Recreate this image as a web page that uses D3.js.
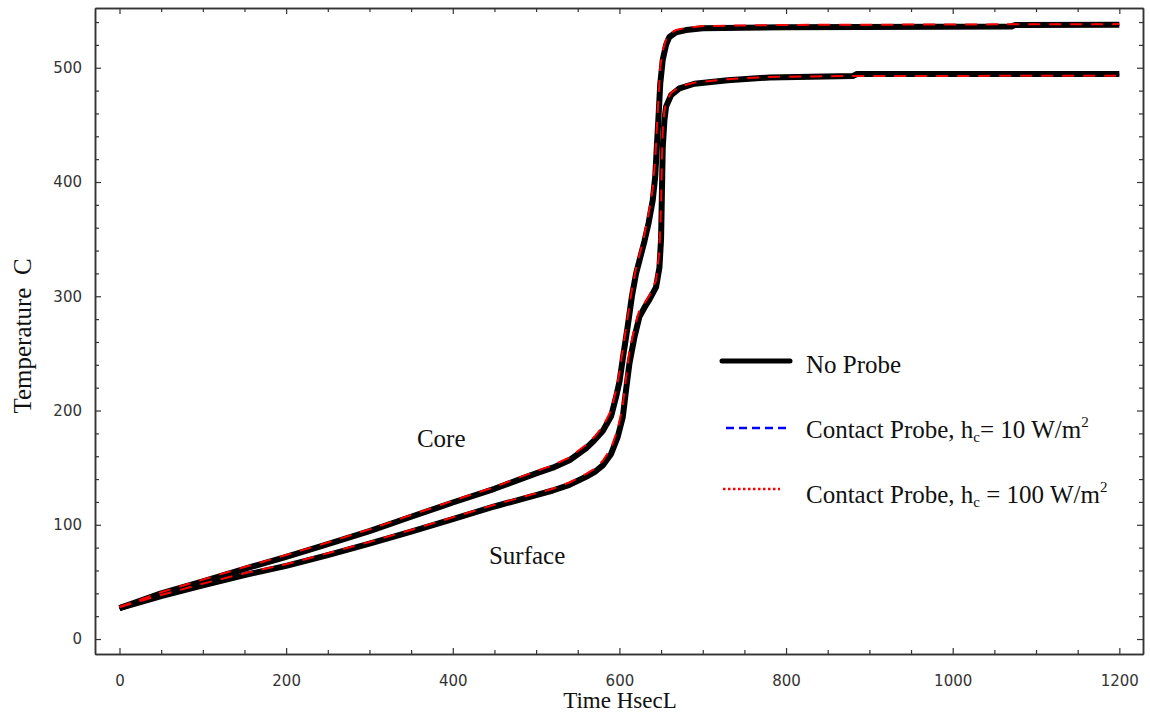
<!DOCTYPE html>
<html lang="en">
<head>
    <meta charset="UTF-8">
    <title>Temperature vs Time</title>
    <script src="https://d3js.org/d3.v7.min.js"></script>
    <style>
        body { margin: 0; background: #fff; }
        .tick text { font-family: "DejaVu Sans", sans-serif; font-size: 15px; fill: #333; }
        .serif { font-family: "Liberation Serif", "Times New Roman", serif; fill: #111; white-space: pre; }
    </style>
</head>
<body>
    <div id="chart"></div>

    <script>
        // Core (upper curve) readings
        const coreTime = [0, 50, 100, 150, 200, 250, 300, 350, 400, 450, 500, 520, 540, 560, 570, 580, 590, 596, 600, 605,
            610, 615, 620, 625, 630, 635, 640, 643, 645, 647, 649, 652, 656, 660, 668, 680, 700, 800, 1070, 1075, 1200];
        const coreNoProbe = [27, 40, 50.5, 61.5, 72, 83, 94.5, 107, 119.5, 131.5, 145, 150, 156.5, 167, 174, 182, 195, 212, 225, 250,
            274, 300, 320, 334, 348, 364, 384, 405, 432, 458, 486, 507, 520, 527, 531, 533, 534.5, 535.5, 536, 537.5, 537.6];
        const coreHc10 = [27, 40, 50.5, 61.5, 72, 83, 94.5, 107, 119.5, 131.5, 145, 150, 156.5, 167, 174, 182, 195, 212, 225, 250,
            274, 300, 320, 334, 348, 364, 384, 405, 432, 458, 486, 507, 520, 527, 531, 533, 534.5, 535.5, 536, 537, 537.5];
        const coreHc100 = [28, 41, 52, 63, 73.5, 84.5, 96, 108.5, 121, 133, 147, 152, 159, 170, 177, 186, 200, 218, 233, 258,
            282, 306, 325, 339, 354, 372, 394, 420, 448, 475, 500, 515, 525, 530, 533, 535, 536.5, 537.5, 538, 538, 538.2];

        // Surface (lower curve) readings
        const surfTime = [0, 50, 100, 150, 200, 250, 300, 350, 400, 450, 500, 520, 540, 560, 570, 580, 590, 598, 604, 608,
            612, 618, 624, 630, 636, 644, 648, 650, 651, 652, 654, 656, 662, 672, 690, 730, 780, 880, 885, 1200];
        const surfNoProbe = [27, 37.5, 47, 56, 64, 73.5, 83.5, 94, 105, 116, 126, 130, 135, 142, 146, 152, 162, 177, 194, 218,
            241, 264, 282, 290, 297, 308, 325, 350, 390, 430, 454, 466, 476, 482, 486, 489, 491.5, 492.7, 494.5, 494.5];
        const surfHc10 = [27, 37.5, 47, 56, 64, 73.5, 83.5, 94, 105, 116, 126, 130, 135, 142, 146, 152, 162, 177, 194, 218,
            241, 264, 282, 290, 297, 308, 325, 350, 390, 430, 454, 466, 476, 482, 486, 489, 491.5, 492.7, 493.5, 494];
        const surfHc100 = [28, 38.5, 48.5, 57.5, 65.5, 75, 85, 95.5, 106.5, 117.5, 127.5, 131.5, 137, 144.5, 149, 156, 167, 184, 204, 229,
            252, 272, 288, 294, 301, 314, 340, 380, 420, 445, 462, 470, 478, 483.5, 487, 490, 492, 492.8, 492.8, 493];

        const xTicks = [0, 200, 400, 600, 800, 1000, 1200];
        const yTicks = [0, 100, 200, 300, 400, 500];

        const width = 1150, height = 715;
        const svg = d3.select("#chart").append("svg")
            .attr("width", width)
            .attr("height", height);

        const x = d3.scaleLinear().domain([-29.4, 1228.4]).range([95, 1143]);
        const y = d3.scaleLinear().domain([-13.1, 552.3]).range([654, 8]);

        const xMinor = d3.range(-50, 1251, 50).filter(v => v % 200 !== 0 && v > -29.4 && v < 1228.4);
        const yMinor = d3.range(-20, 561, 20).filter(v => v % 100 !== 0 && v > -13.1 && v < 552.3);
        const fmt = d3.format("d");

        // axes: ticks point inward on all four sides
        function styleAxis(g) {
            g.select(".domain").attr("stroke", "#333").attr("stroke-width", 1.5);
            g.selectAll(".tick line").attr("stroke", "#333").attr("stroke-width", 1.2);
        }

        svg.append("g").attr("transform", "translate(0,654)")
            .call(d3.axisBottom(x).tickValues(xTicks).tickFormat(fmt).tickSizeInner(-6).tickSizeOuter(0).tickPadding(21))
            .call(styleAxis);
        svg.append("g").attr("transform", "translate(0,654)")
            .call(d3.axisBottom(x).tickValues(xMinor).tickSizeInner(-4).tickSizeOuter(0).tickFormat(""))
            .call(styleAxis);
        svg.append("g").attr("transform", "translate(0,8)")
            .call(d3.axisTop(x).tickValues(xTicks).tickSizeInner(-6).tickSizeOuter(0).tickFormat(""))
            .call(styleAxis);
        svg.append("g").attr("transform", "translate(0,8)")
            .call(d3.axisTop(x).tickValues(xMinor).tickSizeInner(-4).tickSizeOuter(0).tickFormat(""))
            .call(styleAxis);

        svg.append("g").attr("transform", "translate(95,0)")
            .call(d3.axisLeft(y).tickValues(yTicks).tickFormat(fmt).tickSizeInner(-6).tickSizeOuter(0).tickPadding(13))
            .call(styleAxis);
        svg.append("g").attr("transform", "translate(95,0)")
            .call(d3.axisLeft(y).tickValues(yMinor).tickSizeInner(-4).tickSizeOuter(0).tickFormat(""))
            .call(styleAxis);
        svg.append("g").attr("transform", "translate(1143,0)")
            .call(d3.axisRight(y).tickValues(yTicks).tickSizeInner(-6).tickSizeOuter(0).tickFormat(""))
            .call(styleAxis);
        svg.append("g").attr("transform", "translate(1143,0)")
            .call(d3.axisRight(y).tickValues(yMinor).tickSizeInner(-4).tickSizeOuter(0).tickFormat(""))
            .call(styleAxis);

        // curves
        const line = d3.line().x(d => x(d[0])).y(d => y(d[1]));
        const pairs = (ts, vs) => ts.map((t, i) => [t, vs[i]]);

        const series = [
            { data: pairs(coreTime, coreHc10), color: "#0000ff", w: 2, dash: "8,5" },
            { data: pairs(surfTime, surfHc10), color: "#0000ff", w: 2, dash: "8,5" },
            { data: pairs(coreTime, coreNoProbe), color: "#000", w: 6, dash: null },
            { data: pairs(surfTime, surfNoProbe), color: "#000", w: 6, dash: null },
            { data: pairs(coreTime, coreHc100), color: "#ff0000", w: 2, dash: "12,9" },
            { data: pairs(surfTime, surfHc100), color: "#ff0000", w: 2, dash: "12,9" }
        ];

        svg.append("g").selectAll("path")
            .data(series)
            .join("path")
            .attr("d", d => line(d.data))
            .attr("fill", "none")
            .attr("stroke", d => d.color)
            .attr("stroke-width", d => d.w)
            .attr("stroke-dasharray", d => d.dash)
            .attr("stroke-linejoin", "round");

        // curve labels
        svg.append("text").attr("class", "serif")
            .attr("x", x(357)).attr("y", y(168))
            .attr("font-size", 25).text("Core");
        svg.append("text").attr("class", "serif")
            .attr("x", x(443.4)).attr("y", y(65.6))
            .attr("font-size", 25).text("Surface");

        // axis titles
        svg.append("text").attr("class", "serif")
            .attr("x", 620).attr("y", 708)
            .attr("text-anchor", "middle")
            .attr("font-size", 23)
            .text("Time HsecL");
        svg.append("text").attr("class", "serif")
            .attr("transform", "translate(31,336) rotate(-90)")
            .attr("text-anchor", "middle")
            .attr("font-size", 25)
            .text("Temperature  C");

        // legend
        const legend = svg.append("g");
        legend.append("line").attr("x1", 722).attr("x2", 790).attr("y1", 361).attr("y2", 361)
            .attr("stroke", "#000").attr("stroke-width", 5).attr("stroke-linecap", "round");
        legend.append("line").attr("x1", 726).attr("x2", 787).attr("y1", 428).attr("y2", 428)
            .attr("stroke", "#0000ff").attr("stroke-width", 2.5).attr("stroke-dasharray", "8,5");
        legend.append("line").attr("x1", 723).attr("x2", 780).attr("y1", 489).attr("y2", 489)
            .attr("stroke", "#ff0000").attr("stroke-width", 2.5).attr("stroke-dasharray", "2.5,2.5");

        legend.append("text").attr("class", "serif")
            .attr("x", 806).attr("y", 373).attr("font-size", 25).text("No Probe");

        function probeLabel(yPos, rest) {
            const t = legend.append("text").attr("class", "serif")
                .attr("x", 806).attr("y", yPos).attr("font-size", 25);
            t.append("tspan").text("Contact Probe, h");
            t.append("tspan").attr("font-size", 15).attr("dy", 4).text("c");
            t.append("tspan").attr("dy", -4).text(rest);
            t.append("tspan").attr("font-size", 15).attr("dy", -11).text("2");
        }
        probeLabel(438, "= 10 W/m");
        probeLabel(503, " = 100 W/m");
    </script>
</body>
</html>
